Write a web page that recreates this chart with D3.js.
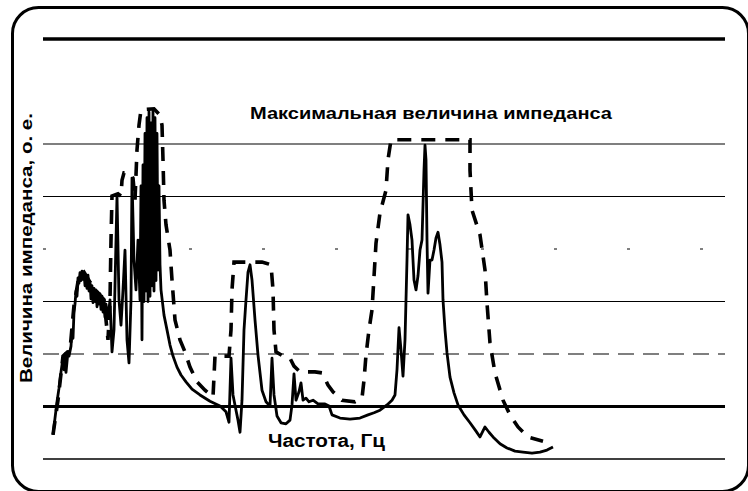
<!DOCTYPE html>
<html>
<head>
<meta charset="utf-8">
<script src="https://cdn.jsdelivr.net/npm/d3@7"></script>
<style>
  body { margin: 0; background: #fff; }
  svg { display: block; }
  text { font-family: "Liberation Sans", Arial, sans-serif; fill: #000; }
</style>
</head>
<body>
<div id="chart"></div>
<script>
// ----------------- DATA -----------------
const titleText = "Максимальная величина импеданса";
const xLabel = "Частота, Гц";
const yLabel = "Величина импеданса, о. е.";

// horizontal grid levels, о. е.
const gridLevels = [0, 1, 2, 3, 4, 5, 6, 8];

// solid curve: frequency (Hz) and impedance (о. е.)
const solidFreq = [20,24,28,32,36,40,42,44,46,48,50,52,56,58,60,62,64,66,68,70,72,74,76,78,80,82,84,86,88,90,92,94,96,98,100,
  102,104,106,108,110,112,114,116,118,120,122,124,126,128,
  130,134,138,142,148,152,156,160,164,168,172,176,178,182,186,190,194,196,198,200,202,204,206,208,210,212,214,216,218,220,222,224,226,228,230,232,234,236,
  242,248,254,260,268,276,286,298,314,334,354,366,372,376,380,386,390,394,398,402,406,410,414,418,424,430,438,446,454,458,462,468,476,486,
  494,498,502,506,512,516,520,526,532,540,550,564,572,578,594,614,634,650,662,674,688,698,704,708,712,716,720,724,728,730,734,738,742,746,
  750,754,758,762,764,766,768,770,774,778,782,786,790,794,798,800,804,808,814,822,830,842,854,866,874,884,892,900,914,928,944,960,978,994,1008,1020];
const solidZ = [0.46,0.78,1.09,1.35,1.66,1.92,1.70,2.0,1.65,1.85,2.05,1.96,2.15,2.46,2.30,2.8,2.95,3.20,3.10,3.45,3.35,3.55,3.40,3.58,3.42,3.55,3.30,3.48,3.25,3.50,3.20,3.38,3.05,3.30,2.98,
  3.25,3.0,3.22,2.90,3.18,2.95,3.15,2.85,3.10,2.80,3.05,2.70,2.95,2.80,
  2.69,3.03,2.04,2.46,5.01,3.03,2.55,3.22,3.98,2.27,1.83,3.03,5.35,3.79,3.22,4.17,3.03,5.2,2.27,5.6,3.0,6.2,3.2,6.5,3.0,6.61,3.1,6.4,3.3,6.65,3.2,6.5,3.4,6.2,3.6,5.2,3.7,3.22,
  2.74,2.46,2.17,1.96,1.75,1.60,1.47,1.33,1.22,1.10,1.01,0.90,0.70,1.92,1.22,0.93,0.74,0.51,1.12,2.46,3.03,3.56,3.70,3.41,2.65,1.98,1.31,1.09,1.01,1.92,1.22,0.82,0.69,0.67,
  0.74,1.03,1.62,1.12,1.28,1.45,1.12,1.16,1.09,1.12,1.05,1.05,1.01,0.84,0.78,0.76,0.78,0.84,0.88,0.93,1.03,1.12,1.22,1.70,2.50,2.08,1.58,2.27,3.79,4.65,4.46,4.17,3.41,3.22,
  3.49,3.98,4.17,5.50,5.98,5.70,4.17,3.16,3.79,3.79,3.98,4.21,4.32,4.08,3.75,3.03,2.46,2.02,1.56,1.26,1.03,0.84,0.69,0.53,0.42,0.61,0.51,0.42,0.29,0.21,0.15,0.13,0.11,0.13,0.17,0.23];

// dashed curve: frequency (Hz) and maximum impedance (о. е.)
const dashFreq = [20,30,40,54,62,72,82,94,108,122,130,134,136,138,150,156,158,162,174,180,184,188,192,196,222,228,234,238,240,242,246,254,258,264,
  274,284,294,308,324,340,344,372,376,378,382,414,438,446,456,460,462,466,480,494,502,514,544,558,570,580,598,624,638,642,646,652,658,662,666,674,686,690,696,
  854,854,858,874,884,888,894,904,920,934,950,970,1000];
const dashZ = [0.46,1.12,1.96,2.08,2.93,3.49,3.56,3.37,3.18,3.03,2.27,3.03,4.17,5.01,5.05,5.01,5.31,5.45,5.45,5.35,4.93,5.89,6.36,6.65,6.67,6.61,6.55,6.36,5.70,4.93,4.46,3.98,3.41,2.65,
  2.27,2.04,1.75,1.47,1.31,1.18,1.96,1.96,2.46,3.22,3.75,3.75,3.75,3.73,3.70,3.22,2.46,2.04,1.96,1.92,1.77,1.66,1.66,1.64,1.41,1.28,1.12,1.09,1.16,1.50,1.98,2.46,2.84,3.47,4.11,4.69,5.12,5.70,6.08,
  6.08,5.50,4.74,4.27,3.60,2.97,2.21,1.64,1.12,0.84,0.61,0.42,0.34];

// ----------------- CHART -----------------
const width = 748, height = 491;

const svg = d3.select("#chart").append("svg")
    .attr("width", width)
    .attr("height", height);

const x = d3.scaleLinear().domain([0, 1364]).range([43, 725]);
const y = d3.scaleLinear().domain([0, 8]).range([459, 39]);

// frame
svg.append("rect")
    .attr("x", 12.5).attr("y", 7.5)
    .attr("width", 736).attr("height", 484)
    .attr("rx", 26).attr("ry", 26)
    .attr("fill", "none")
    .attr("stroke", "#000")
    .attr("stroke-width", 3);

// grid lines
const gridStyle = {
    0: {w: 1.5, dash: null},
    1: {w: 3, dash: null},
    2: {w: 1.2, dash: "16,9"},
    3: {w: 1.2, dash: null},
    4: {w: 1, dash: "3,70"},
    5: {w: 1.2, dash: null},
    6: {w: 1.2, dash: null},
    8: {w: 3.5, dash: null}
};
svg.append("g").selectAll("line")
    .data(gridLevels)
    .join("line")
    .attr("x1", x(0)).attr("x2", x(1364))
    .attr("y1", d => y(d)).attr("y2", d => y(d))
    .attr("stroke", "#000")
    .attr("stroke-width", d => gridStyle[d].w)
    .attr("stroke-dasharray", d => gridStyle[d].dash);

const line = d3.line()
    .x(d => x(d[0]))
    .y(d => y(d[1]));

const solidData = solidFreq.map((f, i) => [f, solidZ[i]]);
const dashData = dashFreq.map((f, i) => [f, dashZ[i]]);

svg.append("path")
    .datum(dashData)
    .attr("d", line)
    .attr("fill", "none")
    .attr("stroke", "#000")
    .attr("stroke-width", 3.6)
    .attr("stroke-dasharray", "14,10");

svg.append("path")
    .datum(solidData)
    .attr("d", line)
    .attr("fill", "none")
    .attr("stroke", "#000")
    .attr("stroke-width", 2.8)
    .attr("stroke-linejoin", "round");

// texts
svg.append("text")
    .attr("x", 250).attr("y", 119)
    .attr("font-size", 17)
    .attr("font-weight", "bold")
    .attr("textLength", 362)
    .attr("lengthAdjust", "spacingAndGlyphs")
    .text(titleText);

svg.append("text")
    .attr("x", 268).attr("y", 447)
    .attr("font-size", 18)
    .attr("font-weight", "bold")
    .attr("textLength", 117)
    .attr("lengthAdjust", "spacingAndGlyphs")
    .text(xLabel);

svg.append("text")
    .attr("transform", "translate(32,383) rotate(-90)")
    .attr("font-size", 17)
    .attr("font-weight", "bold")
    .attr("textLength", 270)
    .attr("lengthAdjust", "spacingAndGlyphs")
    .text(yLabel);
</script>
</body>
</html>
